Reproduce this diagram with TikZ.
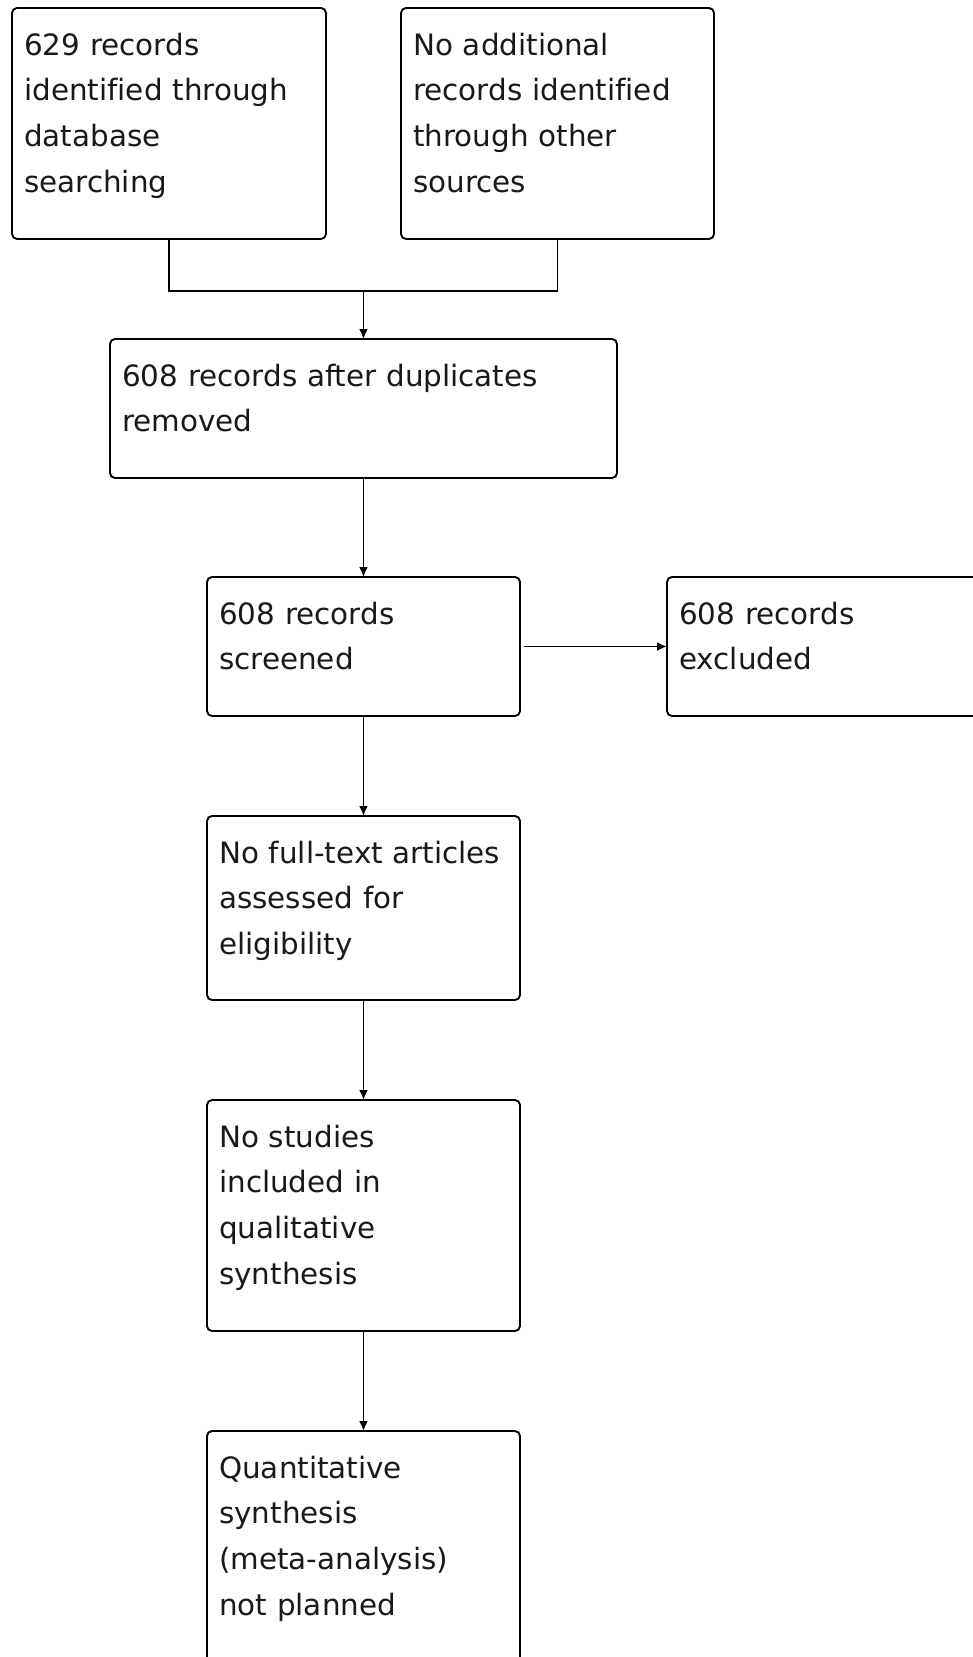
\documentclass[tikz,border=0pt]{standalone}
\usepackage{fontspec}
\newfontfamily\flowfont[Ligatures=NoCommon]{DejaVu Sans}
\usepackage{tikz}
\usetikzlibrary{arrows.meta}

\begin{document}
\begin{tikzpicture}[x=1pt, y=-1pt, >={Latex[length=10pt, width=9pt]},
                    rec/.style = {draw, line width=1.9pt, rounded corners=5pt, anchor=north west,
                                  inner sep=0pt, outer sep=0pt},
                    txt/.style = {anchor=base west, inner sep=0pt, text width=480pt, align=left,
                                  text=black!90, font=\flowfont\fontsize{29.4}{45.7}\selectfont},
                    link/.style = {line width=1.9pt}]
                    \useasboundingbox (0,0) rectangle (973,1657);
                    \clip (0,0) rectangle (973,1657);
                    \node[rec, minimum width=314, minimum height=231] (db) at (12,8) {};
                    \node[rec, minimum width=313, minimum height=231] (other) at (401,8) {};
                    \node[rec, minimum width=507, minimum height=139] (dup) at (110,339) {};
                    \node[rec, minimum width=313, minimum height=139] (screen) at (207,577) {};
                    \node[rec, minimum width=340, minimum height=139] (excl) at (667,577) {};
                    \node[rec, minimum width=313, minimum height=184] (full) at (207,816) {};
                    \node[rec, minimum width=313, minimum height=231] (qual) at (207,1100) {};
                    \node[rec, minimum width=313, minimum height=280] (quant) at (207,1431) {};

                    \node[txt] (db-t) at ([shift={(12,47)}]db.north west)
                        {629 records\\identified through\\database\\searching};
                    \node[txt] (other-t) at ([shift={(12,47)}]other.north west)
                        {No additional\\records identified\\through other\\sources};
                    \node[txt] (dup-t) at ([shift={(12,47)}]dup.north west)
                        {608 records after duplicates\\removed};
                    \node[txt] (screen-t) at ([shift={(12,47)}]screen.north west)
                        {608 records\\screened};
                    \node[txt] (excl-t) at ([shift={(12,47)}]excl.north west)
                        {608 records\\excluded};
                    \node[txt] (full-t) at ([shift={(12,47)}]full.north west)
                        {No full-text articles\\assessed for\\eligibility};
                    \node[txt] (qual-t) at ([shift={(12,47)}]qual.north west)
                        {No studies\\included in\\qualitative\\synthesis};
                    \node[txt] (quant-t) at ([shift={(12,47)}]quant.north west)
                        {Quantitative\\synthesis\\(meta-analysis)\\not planned};

                    \coordinate (join) at (dup.north |- 0,291);
                    \draw[link] (db.south) |- (join) -| (other.south);
                    \draw[link, ->] (join) -- (dup.north);
                    \draw[link, ->] (dup.south) -- (screen.north);
                    \draw[link, ->, shorten <=4pt] (screen.east) -- (screen.east -| excl.west);
                    \draw[link, ->] (screen.south) -- (full.north);
                    \draw[link, ->] (full.south) -- (qual.north);
                    \draw[link, ->] (qual.south) -- (quant.north);
            \end{tikzpicture}
\end{document}
